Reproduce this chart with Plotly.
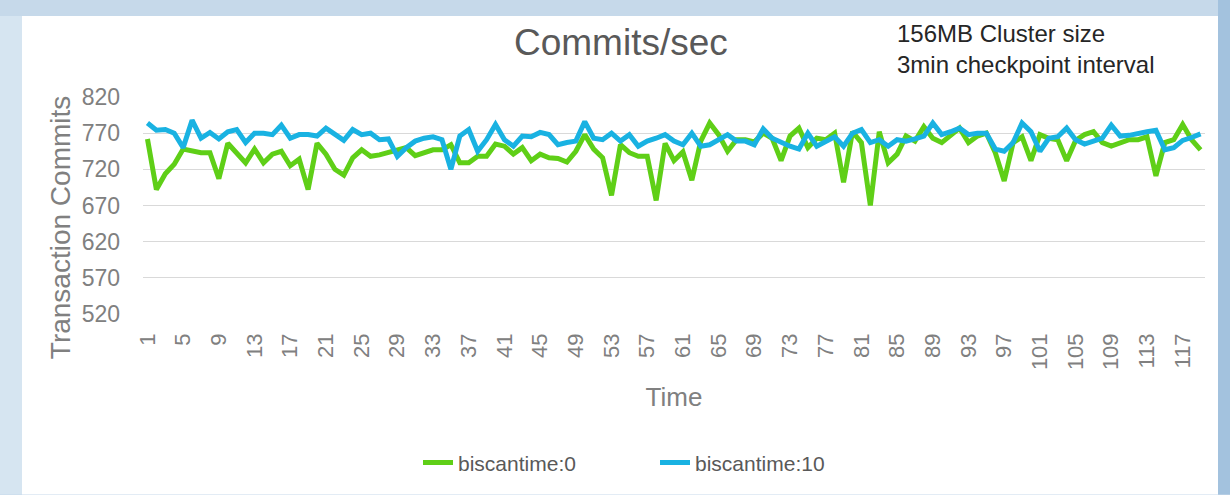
import plotly.graph_objects as go

time_points = list(range(1, 120))

biscan_0 = [
    762, 692, 714, 727, 748, 745, 743, 743, 707, 756,
    743, 729, 748, 729, 741, 745, 725, 734, 692, 756,
    741, 720, 712, 736, 747, 738, 740, 743, 746, 750,
    739, 743, 747, 747, 754, 729, 729, 738, 738, 755,
    752, 741, 750, 732, 741, 736, 735, 730, 745, 768,
    748, 736, 684, 754, 743, 738, 738, 677, 756, 732,
    744, 705, 759, 784, 768, 745, 761, 761, 758, 770,
    763, 732, 766, 777, 750, 763, 761, 770, 702, 772,
    757, 670, 772, 729, 741, 766, 759, 779, 763, 757,
    766, 777, 757, 766, 770, 743, 704, 757, 765, 732,
    768, 763, 761, 732, 760, 768, 772, 757, 752, 757,
    761, 761, 765, 711, 757, 761, 782, 761, 747,
]

biscan_10 = [
    784, 774, 775, 770, 750, 788, 763, 771, 762, 772,
    775, 757, 770, 770, 768, 781, 763, 768, 768, 766,
    777, 768, 760, 775, 768, 770, 761, 762, 738, 750,
    759, 763, 765, 761, 720, 766, 775, 745, 761, 782,
    761, 752, 766, 765, 771, 768, 754, 757, 759, 786,
    763, 761, 770, 759, 768, 752, 759, 763, 768, 759,
    754, 770, 752, 754, 761, 768, 759, 759, 754, 776,
    763, 757, 752, 748, 770, 752, 759, 765, 752, 770,
    775, 757, 761, 752, 761, 759, 762, 766, 784, 768,
    772, 777, 768, 770, 770, 748, 745, 757, 784, 772,
    745, 763, 765, 777, 761, 755, 759, 763, 781, 766,
    767, 770, 772, 774, 747, 750, 760, 764, 769,
]

y_ticks = [520, 570, 620, 670, 720, 770, 820]
x_ticks = list(range(1, 120, 4))

FONT = "Liberation Sans"
GREEN = "#5fcf17"
BLUE = "#19b2e2"

W, H = 1230, 495
L, R, T, B = 143, 25, 97, 178
PW = W - L - R
PH = H - T - B


def px_x(px):
    return (px - L) / PW


def px_y(py):
    return (H - B - py) / PH


fig = go.Figure()
fig.add_trace(go.Scatter(
    x=time_points, y=biscan_0, mode="lines", name="biscantime:0",
    line=dict(color=GREEN, width=5),
))
fig.add_trace(go.Scatter(
    x=time_points, y=biscan_10, mode="lines", name="biscantime:10",
    line=dict(color=BLUE, width=5),
))

shapes = [
    # white slide panel
    dict(type="rect", xref="paper", yref="paper", layer="below",
         x0=px_x(22), x1=px_x(1218), y0=px_y(500), y1=px_y(15),
         fillcolor="white", line=dict(width=0)),
    # right strip darker
    dict(type="rect", xref="paper", yref="paper", layer="below",
         x0=px_x(1218), x1=px_x(1232), y0=px_y(500), y1=px_y(-2),
         fillcolor="#a3c2de", line=dict(width=0)),
    # left strip lighter
    dict(type="rect", xref="paper", yref="paper", layer="below",
         x0=px_x(-2), x1=px_x(22), y0=px_y(500), y1=px_y(15),
         fillcolor="#d6e5f1", line=dict(width=0)),
]

annotations = [
    dict(text="Commits/sec", xref="paper", yref="paper",
         x=px_x(621), y=px_y(42), xanchor="center", yanchor="middle",
         showarrow=False, font=dict(family=FONT, size=37, color="#595959")),
    dict(text="156MB Cluster size<br>3min checkpoint interval",
         xref="paper", yref="paper", x=px_x(895), y=px_y(17),
         xanchor="left", yanchor="top", align="left", showarrow=False,
         font=dict(family=FONT, size=24, color="#262626")),
    dict(text="Transaction Commits", xref="paper", yref="paper",
         x=px_x(60), y=px_y(230), xanchor="center", yanchor="middle",
         textangle=-90, showarrow=False,
         font=dict(family=FONT, size=28, color="#808080")),
]

fig.update_layout(
    width=W, height=H,
    margin=dict(l=L, r=R, t=T, b=B, pad=0),
    paper_bgcolor="#c6d9ea",
    plot_bgcolor="white",
    font=dict(family=FONT, color="#808080"),
    showlegend=True,
    legend=dict(orientation="h", x=px_x(418), xanchor="left",
                y=px_y(468), yanchor="middle",
                font=dict(family=FONT, size=21, color="#595959"),
                bgcolor="rgba(0,0,0,0)", entrywidth=192,
                entrywidthmode="pixels"),
    shapes=shapes,
    annotations=annotations,
    xaxis=dict(
        range=[0.5, 119.5], tickmode="array", tickvals=x_ticks,
        ticktext=[str(v) for v in x_ticks], tickangle=-90,
        tickfont=dict(family=FONT, size=22, color="#808080"),
        showgrid=False, zeroline=False, showline=False,
        ticks="", ticklabelstandoff=14,
        title=dict(text="Time", font=dict(family=FONT, size=26, color="#808080"),
                   standoff=18),
    ),
    yaxis=dict(
        range=[520, 820], tickmode="array", tickvals=y_ticks,
        tickfont=dict(family=FONT, size=23, color="#808080"),
        showgrid=True, gridcolor="#d9d9d9", gridwidth=1.2,
        zeroline=False, showline=False, ticks="", ticklabelstandoff=22,
    ),
)

fig.write_html(
    "out.html",
    config={"displayModeBar": False},
    post_script="document.body.style.margin='0';"
                "document.body.style.overflow='hidden';"
                "document.body.style.background='#c6d9ea';",
)
